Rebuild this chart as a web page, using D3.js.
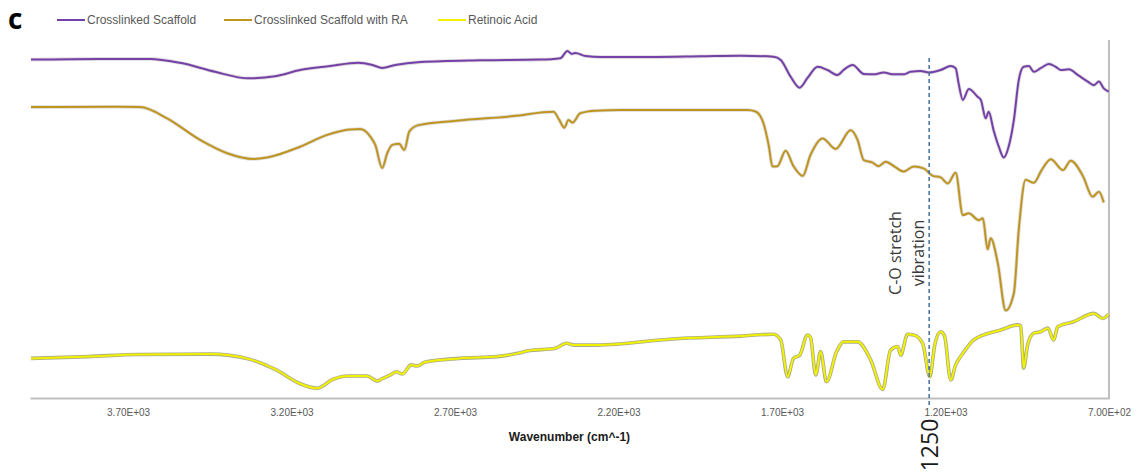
<!DOCTYPE html>
<html>
<head>
<meta charset="utf-8">
<script src="https://cdn.jsdelivr.net/npm/d3@7"></script>
<style>
  html, body { margin: 0; padding: 0; background: #fff; }
  svg { display: block; }
</style>
</head>
<body>
<svg id="chart" width="1142" height="475"></svg>
<script>
// FTIR spectra, wavenumber (cm^-1) vs. offset transmittance (a.u.)
const seriesNames = ["Crosslinked Scaffold", "Crosslinked Scaffold with RA", "Retinoic Acid"];
const seriesColors = ["#7540a8", "#c0951f", "#f2f200"];

const scaffoldWn = [3997,3786,3633,3541,3434,3333,3250,3174,3082,2996,2953,2923,2883,2806,2623,2439,2378,2356,2344,2332,2301,2255,2102,1949,1827,1726,1704,1674,1646,1622,1591,1561,1530,1512,1484,1450,1420,1389,1359,1328,1307,1276,1251,1215,1184,1169,1160,1147,1129,1102,1092,1077,1068,1053,1037,1022,1007,991,976,961,945,930,909,884,863,847,823,795,765,746,731,716,701];
const scaffoldT = [94.0,94.2,94.2,93.1,90.6,88.8,89.4,91.1,92.2,93.1,92.5,91.7,92.5,93.3,93.8,94.0,94.4,96.4,95.6,95.8,95.0,94.7,94.7,94.9,95.1,94.8,93.9,89.3,86.2,88.9,92.0,91.1,89.7,91.1,92.5,90.0,89.9,90.4,89.9,89.9,90.6,90.8,90.4,91.1,92.2,91.6,87.4,82.8,85.8,83.7,82.8,77.7,79.5,74.4,69.8,66.8,69.8,77.2,88.3,92.0,92.2,90.6,91.6,92.8,92.0,91.1,91.3,89.7,87.9,86.9,87.9,86.0,85.1];

const scaffoldRaWn = [3997,3734,3663,3581,3480,3397,3317,3275,3174,3091,3021,2990,2959,2944,2923,2907,2892,2871,2855,2840,2812,2696,2522,2399,2381,2366,2353,2341,2317,2271,2194,1805,1781,1757,1741,1729,1714,1689,1665,1637,1613,1576,1536,1490,1469,1450,1423,1405,1383,1356,1328,1297,1267,1239,1215,1193,1169,1147,1129,1098,1086,1071,1062,1040,1016,991,976,955,930,906,878,841,817,780,750,731,716];
const scaffoldRaT = [80.8,80.9,80.8,77.7,71.7,68.0,66.4,66.8,69.8,73.1,74.6,74.7,72.6,70.3,63.9,68.1,70.3,70.6,68.9,74.0,75.8,77.0,78.3,79.5,77.2,75.1,77.2,76.5,79.1,79.8,80.0,80.0,79.6,76.4,70.3,64.3,64.4,68.7,64.4,61.7,67.5,72.1,69.2,74.4,71.7,66.1,65.4,64.4,65.6,64.3,62.9,64.3,63.8,61.7,61.3,59.6,62.6,50.8,51.3,49.4,49.9,41.3,44.4,37.4,24.3,29.1,46.7,60.6,59.8,63.3,66.3,63.3,65.9,61.7,55.9,57.3,54.3];

const retinoicWn = [3997,3822,3669,3449,3330,3247,3177,3122,3073,3027,2969,2938,2926,2898,2880,2861,2834,2816,2791,2687,2571,2509,2476,2393,2359,2335,2265,2035,1827,1726,1704,1683,1665,1646,1622,1613,1597,1582,1564,1533,1512,1469,1429,1392,1368,1346,1337,1316,1297,1270,1248,1233,1215,1203,1184,1169,1154,1135,1114,1031,979,970,961,949,930,909,887,869,857,808,746,719,701];
const retinoicT = [11.0,11.5,12.1,12.2,10.8,7.8,4.1,2.7,5.2,6.1,6.1,4.7,5.2,6.4,7.3,6.7,9.2,8.9,10.0,11.0,11.5,12.4,13.1,13.8,15.2,14.7,14.7,16.4,17.2,17.7,16.1,5.9,11.0,11.9,17.5,16.9,6.4,12.9,4.5,12.9,15.6,15.6,10.6,2.4,13.3,14.3,11.9,17.7,17.5,15.2,5.9,14.7,18.4,17.2,5.0,9.2,11.5,13.9,16.1,18.9,20.3,20.0,8.3,14.7,18.0,18.4,19.4,16.1,19.8,21.2,23.5,22.1,23.3];

const tickValues = [3700, 3200, 2700, 2200, 1700, 1200, 700];
const tickLabels = ["3.70E+03", "3.20E+03", "2.70E+03", "2.20E+03", "1.70E+03", "1.20E+03", "7.00E+02"];

const markerWn = 1250;
const markerText = ["C-O stretch", "vibration"];

const series = [
  { name: seriesNames[0], color: seriesColors[0], wn: scaffoldWn, t: scaffoldT },
  { name: seriesNames[1], color: seriesColors[1], wn: scaffoldRaWn, t: scaffoldRaT },
  { name: seriesNames[2], color: seriesColors[2], wn: retinoicWn, t: retinoicT }
];

const svg = d3.select("#chart");
const plot = { left: 30, right: 1109, top: 40, bottom: 398 };

const x = d3.scaleLinear().domain([4000, 700]).range([plot.left, plot.right]);
const y = d3.scaleLinear().domain([0, 100]).range([plot.bottom, 38]);

// Bottom category-style axis without tick marks
const xAxis = d3.axisBottom(x)
  .tickValues(tickValues)
  .tickFormat((d, i) => tickLabels[i])
  .tickSize(0)
  .tickPadding(11);

const gx = svg.append("g")
  .attr("transform", `translate(0,${plot.bottom})`)
  .call(xAxis);
gx.select(".domain").attr("stroke", "#bfbfbf").attr("stroke-width", 2);
gx.selectAll("text")
  .attr("fill", "#595959")
  .style("font-family", "'Liberation Sans', Arial, sans-serif")
  .style("font-size", "10px");

// Right-hand frame line
svg.append("line")
  .attr("x1", plot.right).attr("x2", plot.right)
  .attr("y1", plot.top).attr("y2", plot.bottom + 1)
  .attr("stroke", "#bfbfbf").attr("stroke-width", 2);

svg.append("text")
  .attr("x", (plot.left + plot.right) / 2)
  .attr("y", 441)
  .attr("text-anchor", "middle")
  .style("font-family", "'Liberation Sans', Arial, sans-serif")
  .style("font-size", "12px")
  .style("font-weight", "bold")
  .attr("fill", "#1a1a1a")
  .text("Wavenumber (cm^-1)");

// Spectra
const line = d3.line()
  .x(d => x(d[0]))
  .y(d => y(d[1]))
  .curve(d3.curveMonotoneX);

series.forEach(s => {
  const pts = s.wn.map((w, i) => [w, s.t[i]]);
  svg.append("path")
    .attr("d", line(pts))
    .attr("fill", "none")
    .attr("stroke", s.color === seriesColors[2] ? "#8f8f6a" : "#9a9a9a")
    .attr("stroke-opacity", s.color === seriesColors[2] ? 0.75 : 0.35)
    .attr("stroke-width", 3.6)
    .attr("stroke-linejoin", "round");
  svg.append("path")
    .attr("d", line(pts))
    .attr("fill", "none")
    .attr("stroke", s.color)
    .attr("stroke-width", 2)
    .attr("stroke-linejoin", "round");
});

// Marker at 1250 cm^-1
const mx = x(markerWn);
svg.append("line")
  .attr("x1", mx).attr("x2", mx)
  .attr("y1", 58).attr("y2", 408)
  .attr("stroke", "#41719c")
  .attr("stroke-width", 1.5)
  .attr("stroke-dasharray", "4,3");

const noteFont = "'Open Sans', 'DejaVu Sans', sans-serif";
markerText.forEach((t, i) => {
  svg.append("text")
    .attr("transform", `translate(${mx - 28 + i * 23},253) rotate(-90)`)
    .attr("text-anchor", "middle")
    .style("font-family", noteFont)
    .style("font-size", "16px")
    .attr("fill", "#3a3a3a")
    .text(t);
});

svg.append("text")
  .attr("transform", `translate(${mx + 9},445) rotate(-90)`)
  .attr("text-anchor", "middle")
  .style("font-family", noteFont)
  .style("font-size", "23px")
  .attr("fill", "#1a1a1a")
  .text(String(markerWn));

// Panel letter and legend
svg.append("text")
  .attr("x", 8).attr("y", 29)
  .style("font-family", noteFont)
  .style("font-size", "28px")
  .style("font-weight", "bold")
  .attr("fill", "#000")
  .text("c");

const legendX = [57, 224, 438];
series.forEach((s, i) => {
  const g = svg.append("g").attr("transform", `translate(${legendX[i]},20)`);
  g.append("line")
    .attr("x1", 0).attr("x2", 28)
    .attr("y1", 0).attr("y2", 0)
    .attr("stroke", s.color)
    .attr("stroke-width", 2);
  g.append("text")
    .attr("x", 30).attr("y", 4)
    .style("font-family", "'Liberation Sans', Arial, sans-serif")
    .style("font-size", "12px")
    .attr("fill", "#595959")
    .text(s.name);
});
</script>
</body>
</html>
